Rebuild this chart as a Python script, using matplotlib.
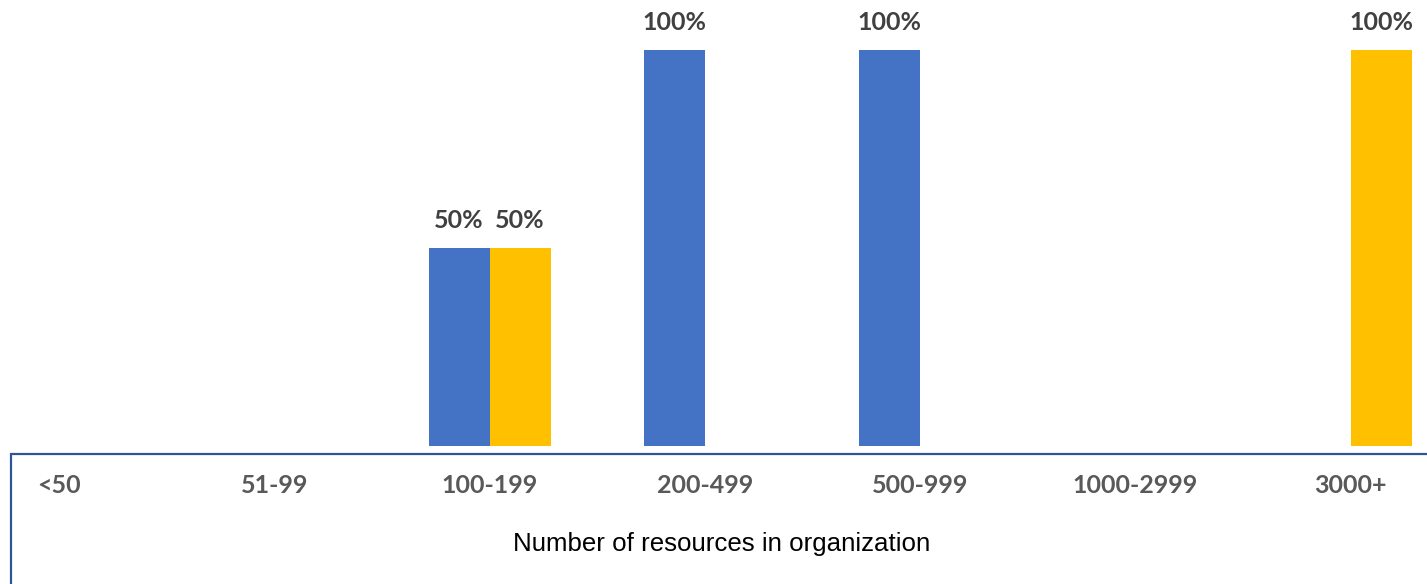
import matplotlib
matplotlib.use("Agg")
import matplotlib.pyplot as plt
from matplotlib.patches import Rectangle
import numpy as np

categories = ["<50", "51-99", "100-199", "200-499", "500-999", "1000-2999", "3000+"]
series_blue = [0, 0, 0.5, 1.0, 1.0, 0, 0]
series_yellow = [0, 0, 0.5, 0, 0, 0, 1.0]

BLUE = "#4472C4"
YELLOW = "#FFC000"
LABEL_GREY = "#595959"
VALUE_GREY = "#404040"
FRAME = "#2F5597"

W, H = 1427, 584
fig = plt.figure(figsize=(W / 100, H / 100), dpi=100)

# plot area: category spacing ~215 px, baseline at 446 px, 100% at 50 px
step = 215.3
left_px = 59 - 0.5 * step
ax = fig.add_axes([left_px / W, (H - 446) / H, 7 * step / W, 396 / H])

x = np.arange(len(categories))
bw = 0.283
bars_b = ax.bar(x - bw / 2, series_blue, width=bw, color=BLUE, zorder=2)
bars_y = ax.bar(x + bw / 2, series_yellow, width=bw, color=YELLOW, zorder=2)

for bars, vals in ((bars_b, series_blue), (bars_y, series_yellow)):
    for rect, v in zip(bars, vals):
        if v > 0:
            ax.annotate(f"{v:.0%}", (rect.get_x() + rect.get_width() / 2, v),
                        xytext=(0, 14.4), textcoords="offset points",
                        ha="center", va="baseline", fontsize=18, fontweight="bold",
                        color=VALUE_GREY, family="Lato", annotation_clip=False)

ax.set_xlim(-0.5, len(categories) - 0.5)
ax.set_ylim(0, 1)
for s in ax.spines.values():
    s.set_visible(False)
ax.set_yticks([])
ax.set_xticks(x)
ax.set_xticklabels(categories, fontsize=18, fontweight="bold", color=LABEL_GREY,
                   family="Lato", va="baseline")
ax.tick_params(axis="x", length=0, pad=33.8)

ax.set_xlabel("Number of resources in organization", fontsize=18.6,
              family="Liberation Sans", color="black", va="baseline")
ax.xaxis.set_label_coords((722 - left_px) / (7 * step), -(551 - 446) / 396)

# frame around the category axis area
fig.add_artist(Rectangle((10.5 / W, -0.2), 1.2, (H - 454) / H + 0.2,
                         transform=fig.transFigure, fill=False,
                         edgecolor=FRAME, linewidth=1.6, clip_on=False))

fig.savefig("out.png", dpi=100)
